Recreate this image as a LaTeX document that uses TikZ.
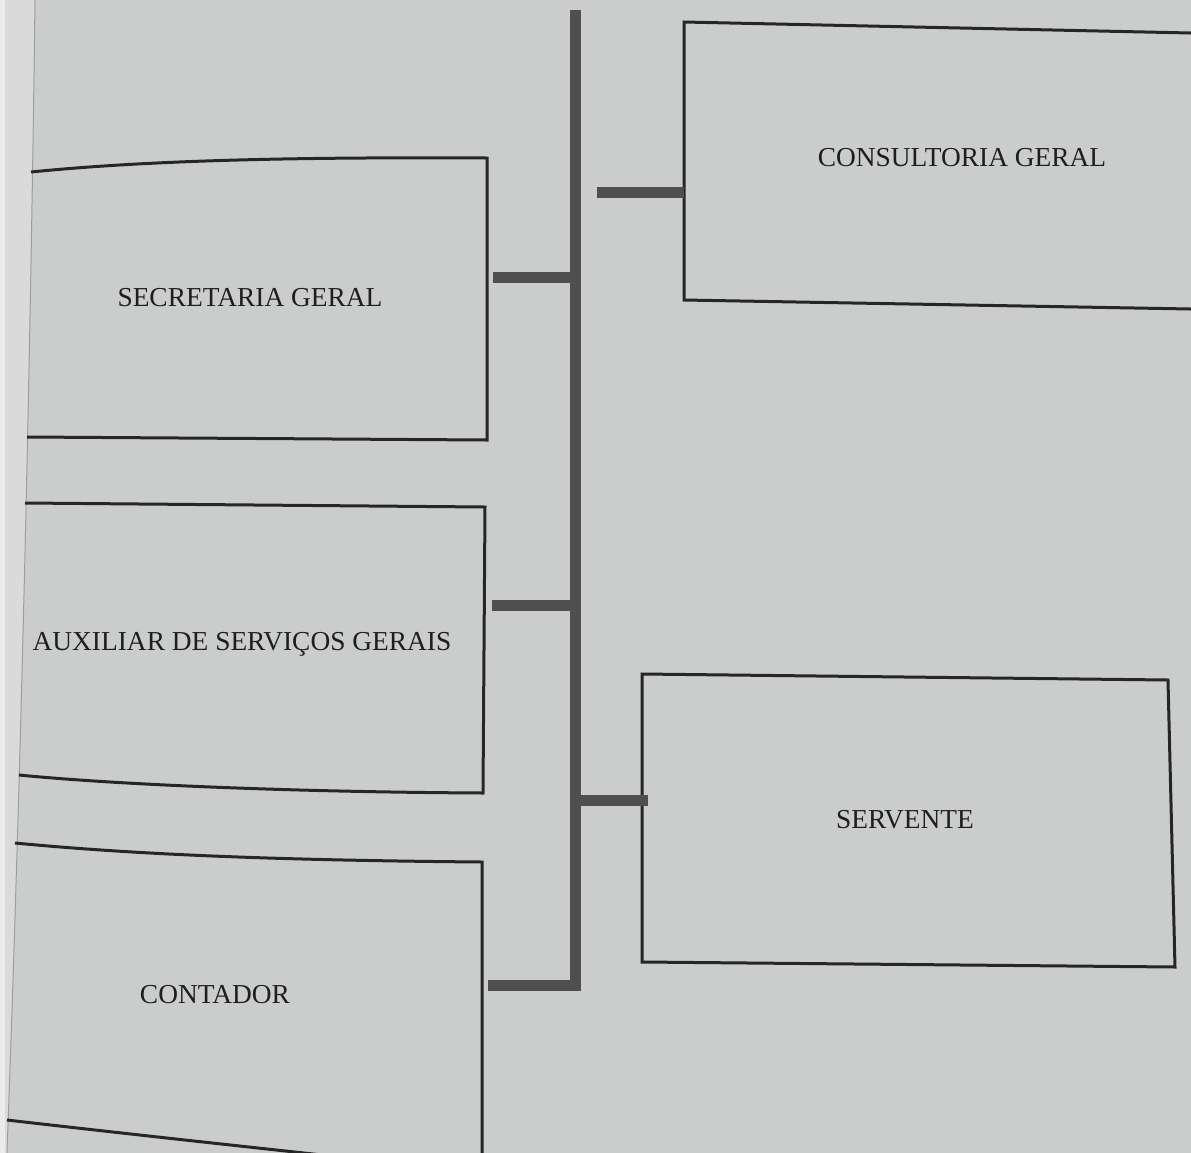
\documentclass[tikz,border=0pt]{standalone}
\usepackage{fontspec}
\setmainfont{Liberation Serif}
\definecolor{bgc}{HTML}{CBCDCC}
\definecolor{stripc}{HTML}{D9DAD9}
\definecolor{edgec}{HTML}{EBEBEB}
\definecolor{foldc}{HTML}{9C9E9D}
\definecolor{boxc}{HTML}{262626}
\definecolor{barc}{HTML}{4F4F4F}
\definecolor{txtc}{HTML}{1E1E1E}
\begin{document}
\begin{tikzpicture}[x=0.5pt,y=-0.5pt,
  boxline/.style={draw=boxc, line width=1.5pt, line join=miter},
  branch/.style={draw=barc, line width=5.5pt},
  lbl/.style={font=\fontsize{13.7}{16}\selectfont, text=txtc, inner sep=0pt}]
\useasboundingbox (0,0) rectangle (1191,1153);
\fill[bgc] (0,0) rectangle (1191,1153);
% page edge / fold on the left
\fill[stripc] (0,0) -- (35,0) .. controls (30,400) and (20,800) .. (7,1153) -- (0,1153) -- cycle;
\fill[edgec] (0,0) rectangle (5,1153);
\draw[foldc, line width=0.5pt] (35,0) .. controls (30,400) and (20,800) .. (7,1153);

% boxes (open on the left, where the page edge cuts them)
\draw[boxline] (31,172) .. controls (150,160) and (300,157) .. (487,158) -- (487,440) -- (27,437);
\draw[boxline] (25,503) -- (485,507) -- (483,793) .. controls (300,792) and (120,785) .. (19,775);
\draw[boxline] (1191,33) -- (684,22) -- (684,300) -- (1191,309);
\draw[boxline] (642,674) -- (1168,680) -- (1175,967) -- (642,962) -- cycle;
\draw[boxline] (15,843) .. controls (120,853) and (250,860) .. (482,862) -- (482,1153);
\draw[boxline] (7,1120) .. controls (120,1133) and (230,1145) .. (350,1158);

% labels
\node[lbl] (cons) at (962,158) {CONSULTORIA GERAL};
\node[lbl] (sec) at (250,298) {SECRETARIA GERAL};
\node[lbl] (aux) at (242,644) {AUXILIAR DE SERVIÇOS GERAIS};
\node[lbl] (serv) at (905,820) {SERVENTE};
\node[lbl] (cont) at (215,995) {CONTADOR};

% anchor points on box edges and trunk
\coordinate (top) at (575,10);
\coordinate (bot) at (575,985);
\coordinate (secE) at (493,277);
\coordinate (secT) at (575,277);
\coordinate (auxE) at (492,605);
\coordinate (auxT) at (575,605);
\coordinate (servW) at (648,800);
\coordinate (servT) at (575,800);
\coordinate (consW) at (684,192);
\coordinate (consS) at (597,192);
\coordinate (contE) at (488,985);

% connectors
\draw[branch] (top) -- (bot) -- (contE);
\draw[branch] (secE) -- (secT);
\draw[branch] (auxE) -- (auxT);
\draw[branch] (servT) -- (servW);
\draw[branch] (consS) -- (consW);
\end{tikzpicture}
\end{document}
